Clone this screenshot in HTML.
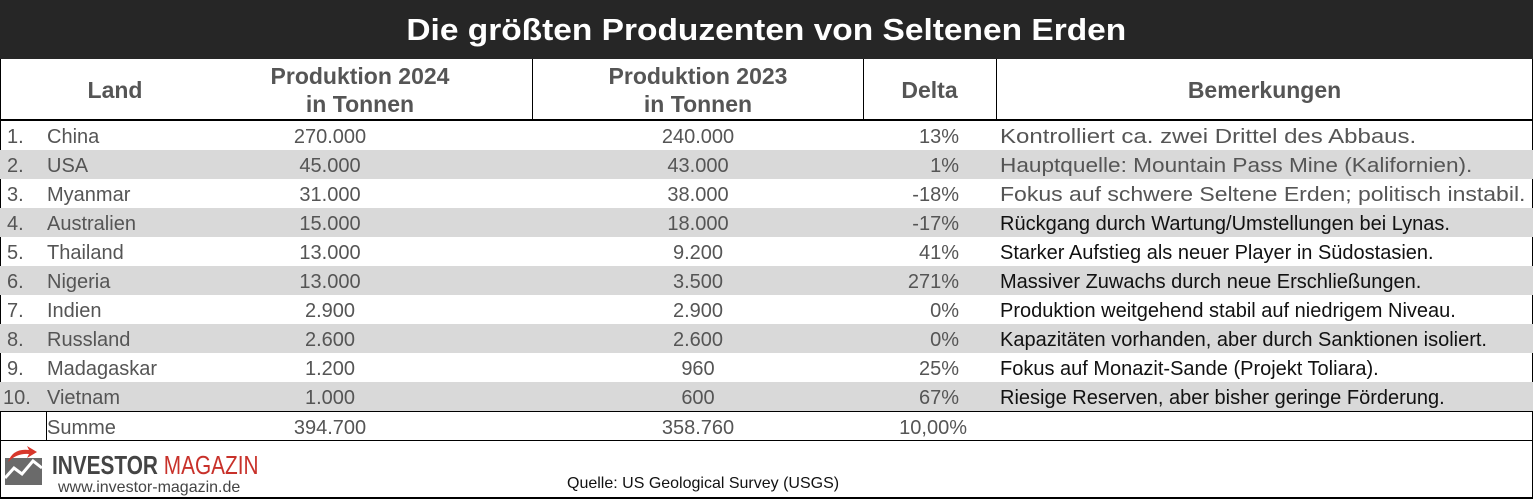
<!DOCTYPE html>
<html><head><meta charset="utf-8"><style>
*{margin:0;padding:0;box-sizing:border-box}
body{width:1533px;height:499px;background:#fff;position:relative;overflow:hidden;font-family:"Liberation Sans","DejaVu Sans",sans-serif;color:#555}
.a{position:absolute;white-space:nowrap}
.t{position:absolute;left:0;top:0;width:1533px;height:59px;background:#262626;color:#fff;font-weight:bold;font-size:31px;text-align:center;line-height:59px}
.t div{display:inline-block;transform:scaleX(1.08)}
.h{position:absolute;top:60px;height:60px;font-weight:bold;font-size:23px;color:#555;text-align:center;line-height:28px;display:flex;align-items:center;justify-content:center}
.row{position:absolute;left:0;width:1533px;height:29px;font-size:20px;line-height:29px}
.g{background:#d9d9d9}
.row span{position:absolute;top:2px}
.row span.w{transform-origin:left}
.c{text-align:center}
.vl{position:absolute;width:1px;background:#000}
.hl{position:absolute;height:2px;background:#000;left:0}
</style></head><body>
<div class="t"><div>Die größten Produzenten von Seltenen Erden</div></div>
<div class="vl" style="left:0;top:59px;height:440px"></div>
<div class="vl" style="left:1532px;top:59px;height:440px"></div>
<div class="h" style="left:0;width:230px">Land</div>
<div class="h" style="left:200px;width:320px">Produktion 2024<br>in Tonnen</div>
<div class="h" style="left:533px;width:330px">Produktion 2023<br>in Tonnen</div>
<div class="h" style="left:863px;width:133px">Delta</div>
<div class="h" style="left:996px;width:537px">Bemerkungen</div>
<div class="vl" style="left:532px;top:59px;height:61px"></div>
<div class="vl" style="left:863px;top:59px;height:61px"></div>
<div class="vl" style="left:996px;top:59px;height:61px"></div>
<div class="hl" style="top:119px;width:1533px"></div>

<div class="row" style="top:121px"><span style="left:7px">1.</span><span style="left:47px">China</span><span class="c" style="left:230px;width:200px">270.000</span><span class="c" style="left:598px;width:200px">240.000</span><span style="right:574px">13%</span><span class="w" style="left:1000px;transform:scaleX(1.2)">Kontrolliert ca. zwei Drittel des Abbaus.</span></div>
<div class="row g" style="top:150px"><span style="left:7px">2.</span><span style="left:47px">USA</span><span class="c" style="left:230px;width:200px">45.000</span><span class="c" style="left:598px;width:200px">43.000</span><span style="right:574px">1%</span><span class="w" style="left:1000px;transform:scaleX(1.13)">Hauptquelle: Mountain Pass Mine (Kalifornien).</span></div>
<div class="row" style="top:179px"><span style="left:7px">3.</span><span style="left:47px">Myanmar</span><span class="c" style="left:230px;width:200px">31.000</span><span class="c" style="left:598px;width:200px">38.000</span><span style="right:574px">-18%</span><span class="w" style="left:1000px;transform:scaleX(1.15)">Fokus auf schwere Seltene Erden; politisch instabil.</span></div>
<div class="row g" style="top:208px"><span style="left:7px">4.</span><span style="left:47px">Australien</span><span class="c" style="left:230px;width:200px">15.000</span><span class="c" style="left:598px;width:200px">18.000</span><span style="right:574px">-17%</span><span style="left:1000px;color:#111">Rückgang durch Wartung/Umstellungen bei Lynas.</span></div>
<div class="row" style="top:237px"><span style="left:7px">5.</span><span style="left:47px">Thailand</span><span class="c" style="left:230px;width:200px">13.000</span><span class="c" style="left:598px;width:200px">9.200</span><span style="right:574px">41%</span><span style="left:1000px;color:#111">Starker Aufstieg als neuer Player in Südostasien.</span></div>
<div class="row g" style="top:266px"><span style="left:7px">6.</span><span style="left:47px">Nigeria</span><span class="c" style="left:230px;width:200px">13.000</span><span class="c" style="left:598px;width:200px">3.500</span><span style="right:574px">271%</span><span style="left:1000px;color:#111">Massiver Zuwachs durch neue Erschließungen.</span></div>
<div class="row" style="top:295px"><span style="left:7px">7.</span><span style="left:47px">Indien</span><span class="c" style="left:230px;width:200px">2.900</span><span class="c" style="left:598px;width:200px">2.900</span><span style="right:574px">0%</span><span style="left:1000px;color:#111">Produktion weitgehend stabil auf niedrigem Niveau.</span></div>
<div class="row g" style="top:324px"><span style="left:7px">8.</span><span style="left:47px">Russland</span><span class="c" style="left:230px;width:200px">2.600</span><span class="c" style="left:598px;width:200px">2.600</span><span style="right:574px">0%</span><span style="left:1000px;color:#111">Kapazitäten vorhanden, aber durch Sanktionen isoliert.</span></div>
<div class="row" style="top:353px"><span style="left:7px">9.</span><span style="left:47px">Madagaskar</span><span class="c" style="left:230px;width:200px">1.200</span><span class="c" style="left:598px;width:200px">960</span><span style="right:574px">25%</span><span style="left:1000px;color:#111">Fokus auf Monazit-Sande (Projekt Toliara).</span></div>
<div class="row g" style="top:382px"><span style="left:3px">10.</span><span style="left:47px">Vietnam</span><span class="c" style="left:230px;width:200px">1.000</span><span class="c" style="left:598px;width:200px">600</span><span style="right:574px">67%</span><span style="left:1000px;color:#111">Riesige Reserven, aber bisher geringe Förderung.</span></div>
<div class="hl" style="top:411px;width:1533px;height:1px"></div>
<div class="row" style="top:412px"><span style="left:47px">Summe</span><span class="c" style="left:230px;width:200px">394.700</span><span class="c" style="left:598px;width:200px">358.760</span><span style="right:566px">10,00%</span></div>
<div class="vl" style="left:46px;top:411px;height:30px"></div>
<div class="hl" style="top:440px;width:1533px;height:1px"></div>
<div class="hl" style="top:497px;width:1533px;height:2px"></div>

<svg class="a" style="left:5px;top:446px" width="38" height="40" viewBox="0 0 38 40">
<rect x="0" y="12" width="37" height="27" fill="#6a6a6a"/>
<polyline points="0,32 9,22 17,28 28,15 37,22" fill="none" stroke="#fff" stroke-width="3"/>
<path d="M3,16 Q8,2 24,4 L22,0 L32,6 L22,12 L24,8 Q12,7 3,16Z" fill="#d8372b"/>
</svg>
<div class="a" style="left:52px;top:450px;font-size:26px;font-weight:bold;color:#444;transform:scaleX(0.8);transform-origin:left">INVESTOR <span style="font-weight:normal;color:#c8312a">MAGAZIN</span></div>
<div class="a" style="left:58px;top:479px;font-size:16px;color:#444">www.investor-magazin.de</div>
<div class="a" style="left:567px;top:475px;font-size:16px;color:#111">Quelle: US Geological Survey (USGS)</div>
</body></html>
